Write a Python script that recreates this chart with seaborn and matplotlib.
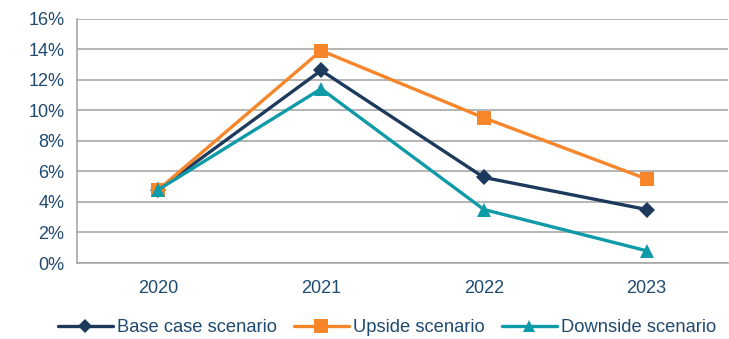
import matplotlib
matplotlib.use("Agg")
import matplotlib.pyplot as plt
import seaborn as sns
import pandas as pd
from matplotlib.ticker import FixedLocator, PercentFormatter

years = ["2020", "2021", "2022", "2023"]
base_case = [4.8, 12.6, 5.6, 3.5]
upside = [4.8, 13.9, 9.5, 5.5]
downside = [4.8, 11.4, 3.5, 0.8]
series_names = ["Base case scenario", "Upside scenario", "Downside scenario"]
y_ticks = [0, 2, 4, 6, 8, 10, 12, 14, 16]

colors = {"Base case scenario": "#1d3a5c",
          "Upside scenario": "#f7862a",
          "Downside scenario": "#0f9aa8"}
markers = {"Base case scenario": "D",
           "Upside scenario": "s",
           "Downside scenario": "^"}
marker_sizes = {"D": 8, "s": 10, "^": 10}
legend_marker_sizes = {"D": 7, "s": 10, "^": 9}
text_color = "#1f4a70"
grid_color = "#a8a8a8"

rows = []
for name, vals in zip(series_names, [base_case, upside, downside]):
    for i, (yr, v) in enumerate(zip(years, vals)):
        rows.append({"pos": i, "year": yr, "value": v, "scenario": name})
df = pd.DataFrame(rows)

sns.set_theme(style="white")
plt.rcParams["font.family"] = ["Liberation Sans", "DejaVu Sans"]

fig = plt.figure(figsize=(7.29, 3.39), dpi=100)
ax = fig.add_axes([77 / 729, 76 / 339, 651 / 729, 244.5 / 339])

sns.lineplot(data=df, x="pos", y="value", hue="scenario", style="scenario",
             hue_order=series_names, style_order=series_names,
             palette=colors, markers=markers, dashes=False,
             linewidth=2.4, markersize=9, markeredgewidth=0,
             ax=ax, legend=True)

for line in ax.lines:
    m = line.get_marker()
    if m in marker_sizes:
        line.set_markersize(marker_sizes[m])

ax.set_xlim(-0.5, 3.5)
ax.set_ylim(0, 16)
ax.yaxis.set_major_locator(FixedLocator(y_ticks))
ax.yaxis.set_major_formatter(PercentFormatter(decimals=0))
ax.set_xticks(range(len(years)))
ax.set_xticklabels(years)
ax.set_xticks([i - 0.5 for i in range(len(years) + 1)], minor=True)
ax.tick_params(axis="x", which="major", length=0, pad=12,
               labelsize=13, labelcolor=text_color)
ax.tick_params(axis="x", which="minor", length=5, width=1.2,
               color=grid_color, direction="out")
ax.tick_params(axis="y", which="major", length=5, width=1.2,
               color=grid_color, direction="out", pad=4,
               labelsize=13, labelcolor=text_color)
ax.grid(axis="y", color=grid_color, linewidth=1.2)
ax.set_axisbelow(True)
for side in ["top", "right"]:
    ax.spines[side].set_visible(False)
for side in ["left", "bottom"]:
    ax.spines[side].set_color(grid_color)
    ax.spines[side].set_linewidth(1.2)
ax.set_xlabel("")
ax.set_ylabel("")

handles, labels = ax.get_legend_handles_labels()
ax.get_legend().remove()
for h in handles:
    m = h.get_marker()
    if m in legend_marker_sizes:
        h.set_markersize(legend_marker_sizes[m])
leg = fig.legend(handles, labels, loc="center", bbox_to_anchor=(0.531, 11 / 339),
                 ncol=3, frameon=False, fontsize=13.2, handlelength=3.0,
                 handletextpad=0.25, columnspacing=0.9, borderaxespad=0)
for t in leg.get_texts():
    t.set_color(text_color)

fig.savefig("out.png", dpi=100)
